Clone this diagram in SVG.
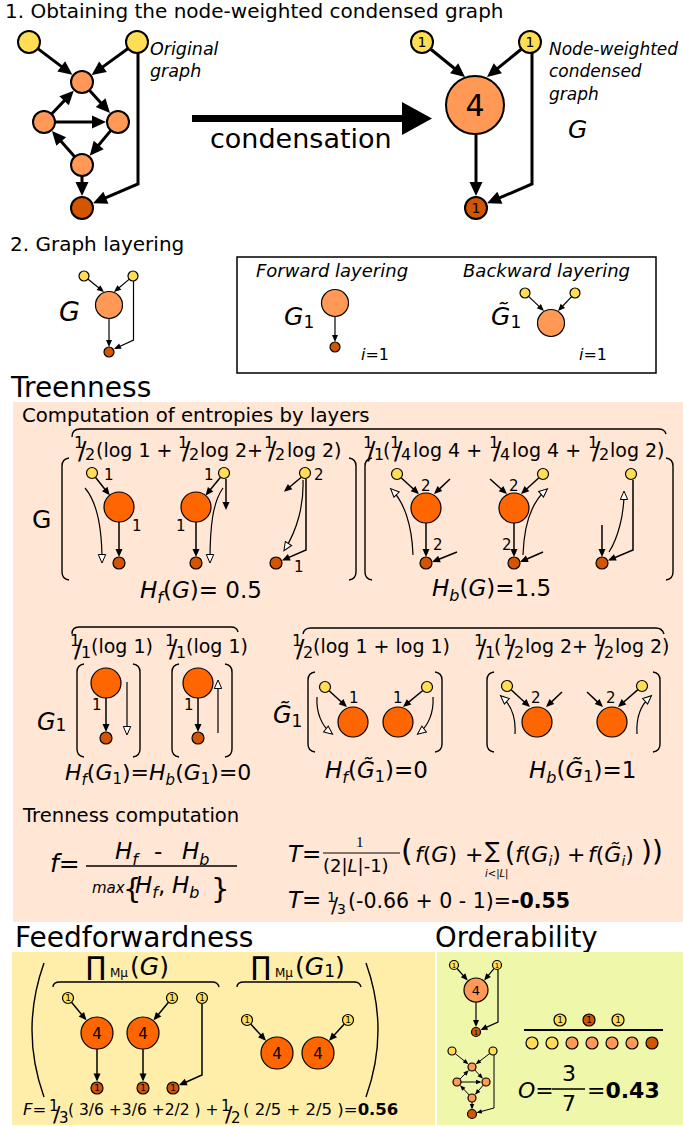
<svg xmlns="http://www.w3.org/2000/svg" width="683" height="1127" viewBox="0 0 683 1127">
<defs>
<style>
text{font-family:"DejaVu Sans","Liberation Sans",sans-serif;fill:#000}
.it{font-style:italic}
.b{font-weight:bold}
.m{text-anchor:middle}
.y{fill:#FFDD55;stroke:#000;stroke-width:1.2}
.o{fill:#FF9955;stroke:#000;stroke-width:1.2}
.r{fill:#FF6600;stroke:#000;stroke-width:1.2}
.d{fill:#D45500;stroke:#000;stroke-width:1.2}
.k2{stroke-width:2}
.e3{fill:none;stroke:#000;stroke-width:3}
.e15{fill:none;stroke:#000;stroke-width:1.5}
.e12{fill:none;stroke:#000;stroke-width:1.2}
.e1{fill:none;stroke:#000;stroke-width:1}
.br{fill:none;stroke:#000;stroke-width:1.4}
.fn{font-size:16px}
.fs{font-size:25px}
.lab{font-size:15px}
.nl{font-size:9px}
</style>
<marker id="ab" markerUnits="userSpaceOnUse" markerWidth="14" markerHeight="13" refX="10" refY="6.5" orient="auto" overflow="visible"><path d="M0,0 L14,6.5 L0,13 z"/></marker>
<marker id="as" markerUnits="userSpaceOnUse" markerWidth="8" markerHeight="7" refX="6" refY="3.5" orient="auto" overflow="visible"><path d="M0,0 L8,3.5 L0,7 z"/></marker>
<marker id="at" markerUnits="userSpaceOnUse" markerWidth="7" markerHeight="6" refX="5" refY="3" orient="auto" overflow="visible"><path d="M0,0 L7,3 L0,6 z"/></marker>
<marker id="ax" markerUnits="userSpaceOnUse" markerWidth="6" markerHeight="5" refX="4" refY="2.2" orient="auto" overflow="visible"><path d="M0,0 L5.5,2.2 L0,4.4 z"/></marker>
<marker id="ah" markerUnits="userSpaceOnUse" markerWidth="10" markerHeight="9" refX="7" refY="4.5" orient="auto" overflow="visible"><path d="M0.5,0.8 L9,4.5 L0.5,8.2 z" fill="#fff" stroke="#000" stroke-width="1"/></marker>
</defs>
<rect width="683" height="1127" fill="#fff"/>

<!-- ============ Section 1 ============ -->
<text x="5" y="18" font-size="20">1. Obtaining the node-weighted condensed graph</text>

<g id="orig-edges" class="e3">
<path d="M37.8,48.6 L69.2,72.4" marker-end="url(#ab)"/>
<path d="M128.1,48.5 L94.9,72.6" marker-end="url(#ab)"/>
<path d="M51.6,114 L71,93.6" marker-end="url(#ab)"/>
<path d="M89.4,90.2 L107.3,110.1" marker-end="url(#ab)"/>
<path d="M55,122 L102,122" marker-end="url(#ab)"/>
<path d="M110.9,130.4 L92.3,152.7" marker-end="url(#ab)"/>
<path d="M74.7,156.8 L54.6,134" marker-end="url(#ab)"/>
<path d="M82,176 L82,192" marker-end="url(#ab)"/>
<path d="M138,53 L138,184 L96.7,201.7" marker-end="url(#ab)"/>
</g>
<g id="orig-y1"><circle class="y k2" cx="29" cy="42" r="11"/></g>
<g id="orig-y2"><circle class="y k2" cx="137" cy="42" r="11"/></g>
<g id="orig-a"><circle class="o k2" cx="82" cy="82" r="11"/></g>
<g id="orig-b"><circle class="o k2" cx="44" cy="122" r="11"/></g>
<g id="orig-c"><circle class="o k2" cx="118" cy="122" r="11"/></g>
<g id="orig-d"><circle class="o k2" cx="82" cy="165" r="11"/></g>
<g id="orig-e"><circle class="d k2" cx="82" cy="208" r="11"/></g>
<text class="it" x="150" y="55" font-size="17.5">Original</text>
<text class="it" x="150" y="77" font-size="17.5">graph</text>

<g id="condensation-arrow">
<path d="M192,118.5 H404" stroke="#000" stroke-width="7"/>
<polygon points="402,102 432,118.5 402,135" fill="#000"/>
<text x="210" y="148" font-size="27">condensation</text>
</g>

<g id="cond-edges" class="e3">
<path d="M430.5,49 L461.9,74.5" marker-end="url(#ab)"/>
<path d="M521.5,49 L490.1,74.5" marker-end="url(#ab)"/>
<path d="M476,134 L476,192" marker-end="url(#ab)"/>
<path d="M532,53 L532,184 L490.7,201.7" marker-end="url(#ab)"/>
</g>
<g id="cond-y1"><circle class="y k2" cx="422" cy="42" r="11"/><text class="m" x="422" y="47" font-size="14">1</text></g>
<g id="cond-y2"><circle class="y k2" cx="530" cy="42" r="11"/><text class="m" x="530" y="47" font-size="14">1</text></g>
<g id="cond-big"><circle class="o k2" cx="475" cy="105" r="29"/><text class="m" x="475" y="116" font-size="30">4</text></g>
<g id="cond-dark"><circle class="d k2" cx="476" cy="208" r="11"/><text class="m" x="476" y="213" font-size="14">1</text></g>
<text class="it" x="549" y="55" font-size="17">Node-weighted</text>
<text class="it" x="549" y="77" font-size="17">condensed</text>
<text class="it" x="549" y="100" font-size="17">graph</text>
<text class="it" x="568" y="138" font-size="25">G</text>

<!-- ============ Section 2 ============ -->
<text x="10" y="251" font-size="20">2. Graph layering</text>
<g id="lay-edges" class="e12">
<path d="M87.5,278.8 L102.4,290.7" marker-end="url(#at)"/>
<path d="M129.6,278.9 L115.5,290.7" marker-end="url(#at)"/>
<path d="M109,318.5 L109,345" marker-end="url(#at)"/>
<path d="M133.5,281 L133.5,340 L115.8,348.2" marker-end="url(#at)"/>
<path d="M335,316.5 L335,340" marker-end="url(#at)"/>
<path d="M528.3,296.1 L542.5,309.6" marker-end="url(#at)"/>
<path d="M571.9,296.3 L559.4,309.5" marker-end="url(#at)"/>
</g>
<g id="lay-g-y1"><circle class="y" cx="84" cy="276" r="5"/></g>
<g id="lay-g-y2"><circle class="y" cx="133" cy="276" r="5"/></g>
<g id="lay-g-o"><circle class="o" cx="109" cy="305" r="13.5"/></g>
<g id="lay-g-d"><circle class="d" cx="109" cy="352" r="5"/></g>
<text class="it" x="59" y="321" font-size="27">G</text>
<rect x="237" y="257" width="419" height="116" fill="none" stroke="#000" stroke-width="1.5"/>
<text class="it" x="256" y="277" font-size="18">Forward layering</text>
<text class="it" x="463" y="277" font-size="18">Backward layering</text>
<text x="284" y="325" font-size="25"><tspan class="it">G</tspan><tspan font-size="17" dy="3">1</tspan></text>
<g id="lay-f-o"><circle class="o" cx="335" cy="303" r="13.5"/></g>
<g id="lay-f-d"><circle class="d" cx="335" cy="347" r="5"/></g>
<text x="361" y="360" font-size="16"><tspan class="it">i</tspan>=1</text>
<text x="491" y="325" font-size="25"><tspan class="it">G̃</tspan><tspan font-size="17" dy="3">1</tspan></text>
<g id="lay-b-y1"><circle class="y" cx="525" cy="293" r="5"/></g>
<g id="lay-b-y2"><circle class="y" cx="575" cy="293" r="5"/></g>
<g id="lay-b-o"><circle class="o" cx="551" cy="323" r="13.5"/></g>
<text x="579" y="360" font-size="16"><tspan class="it">i</tspan>=1</text>

<!-- ============ Treenness ============ -->
<text x="11" y="397" font-size="28">Treenness</text>
<rect x="13" y="402" width="670" height="520" fill="#FFE6D5"/>
<text x="22" y="422" font-size="19.7">Computation of entropies by layers</text>

<g id="tr-braces" class="br">
<path d="M72,437 Q72,429 80,429 L658,429 Q665,429 666,434"/>
<path d="M69,458 Q62,459 62,466 L62,572 Q62,579 69,580"/>
<path d="M349,458 Q356,459 356,466 L356,572 Q356,579 349,580"/>
<path d="M372,458 Q365,459 365,466 L365,572 Q365,579 372,580"/>
<path d="M666,458 Q673,459 673,466 L673,572 Q673,579 666,580"/>
<path d="M72,634 Q72,627 79,627 L231,627 Q237,627 238,632"/>
<path d="M84,664 Q77,665 77,672 L77,749 Q77,756 84,757"/>
<path d="M133,664 Q140,665 140,672 L140,749 Q140,756 133,757"/>
<path d="M179,664 Q172,665 172,672 L172,749 Q172,756 179,757"/>
<path d="M225,664 Q232,665 232,672 L232,749 Q232,756 225,757"/>
<path d="M303,634 Q304,628 311,628 L656,628 Q662,628 664,634"/>
<path d="M315,672 Q308,673 308,680 L308,744 Q308,751 315,752"/>
<path d="M435,672 Q442,673 442,680 L442,744 Q442,751 435,752"/>
<path d="M494,672 Q487,673 487,680 L487,744 Q487,751 494,752"/>
<path d="M653,672 Q660,673 660,680 L660,744 Q660,751 653,752"/>
</g>

<text font-size="19"><tspan class="fn" x="74" y="448">1</tspan><tspan class="fs" x="78" y="459">/</tspan><tspan class="fn" x="85" y="460">2</tspan><tspan x="96" y="457">(log 1 +</tspan><tspan class="fn" x="178" y="448">1</tspan><tspan class="fs" x="182" y="459">/</tspan><tspan class="fn" x="189" y="460">2</tspan><tspan x="200" y="457">log 2+</tspan><tspan class="fn" x="264" y="448">1</tspan><tspan class="fs" x="268" y="459">/</tspan><tspan class="fn" x="275" y="460">2</tspan><tspan x="287" y="457">log 2)</tspan></text>
<text font-size="19"><tspan class="fn" x="363" y="448">1</tspan><tspan class="fs" x="367" y="459">/</tspan><tspan class="fn" x="374" y="460">1</tspan><tspan x="383" y="457">(</tspan><tspan class="fn" x="390" y="448">1</tspan><tspan class="fs" x="394" y="459">/</tspan><tspan class="fn" x="401" y="460">4</tspan><tspan x="413" y="457">log 4 +</tspan><tspan class="fn" x="489" y="448">1</tspan><tspan class="fs" x="493" y="459">/</tspan><tspan class="fn" x="500" y="460">4</tspan><tspan x="512" y="457">log 4 +</tspan><tspan class="fn" x="588" y="448">1</tspan><tspan class="fs" x="592" y="459">/</tspan><tspan class="fn" x="599" y="460">2</tspan><tspan x="610" y="457">log 2)</tspan></text>
<text x="32" y="528" font-size="25">G</text>

<g id="tr-row1-edges">
<path class="e15" d="M95.4,477.3 L108.5,493.7" marker-end="url(#as)"/>
<path class="e15" d="M119,522 L119,555" marker-end="url(#as)"/>
<path class="e12" d="M85,488 C97,502 102,525 102,561" marker-end="url(#ah)"/>
<path class="e15" d="M220.5,477.3 L206.8,493.9" marker-end="url(#as)"/>
<path class="e15" d="M226,479 L226,508" marker-end="url(#as)"/>
<path class="e15" d="M196,522 L196,555" marker-end="url(#as)"/>
<path class="e12" d="M223,488 C213,502 210,525 210,561" marker-end="url(#ah)"/>
<path class="e15" d="M301,477.5 L285.5,490.5" marker-end="url(#as)"/>
<path class="e12" d="M303,480 C304,505 297,530 285,549" marker-end="url(#ah)"/>
<path class="e15" d="M306,479 L306,550 L283.8,559.6" marker-end="url(#as)"/>
<path class="e15" d="M401.1,477.7 L417.5,492.7" marker-end="url(#as)"/>
<path class="e15" d="M450,479 L435.5,492.6" marker-end="url(#as)"/>
<path class="e15" d="M426,523 L426,555" marker-end="url(#as)"/>
<path class="e15" d="M457,552 L433.9,561.3" marker-end="url(#as)"/>
<path class="e12" d="M413,555 C412,525 404,502 392,490" marker-end="url(#ah)"/>
<path class="e15" d="M490,479 L505.5,492.7" marker-end="url(#as)"/>
<path class="e15" d="M538.9,477.7 L522.5,492.7" marker-end="url(#as)"/>
<path class="e15" d="M514,523 L514,555" marker-end="url(#as)"/>
<path class="e15" d="M543,552 L521.8,561.2" marker-end="url(#as)"/>
<path class="e12" d="M523,555 C524,525 532,502 546,490" marker-end="url(#ah)"/>
<path class="e15" d="M602,525 L602,555" marker-end="url(#as)"/>
<path class="e12" d="M609,552 C618,538 624,515 624,493" marker-end="url(#ah)"/>
<path class="e15" d="M633,480 L633,550 L609.8,559.7" marker-end="url(#as)"/>
</g>
<g id="tr-f1-y"><circle class="y" cx="92" cy="473" r="5.5"/></g>
<g id="tr-f1-o"><circle class="r" cx="119" cy="507" r="15"/></g>
<g id="tr-f1-d"><circle class="d" cx="119" cy="563" r="6"/></g>
<g id="tr-f2-y"><circle class="y" cx="224" cy="473" r="5.5"/></g>
<g id="tr-f2-o"><circle class="r" cx="196" cy="507" r="15"/></g>
<g id="tr-f2-d"><circle class="d" cx="196" cy="563" r="6"/></g>
<g id="tr-f3-y"><circle class="y" cx="305" cy="473" r="5.5"/></g>
<g id="tr-f3-d"><circle class="d" cx="276" cy="563" r="6"/></g>
<g id="tr-b1-y"><circle class="y" cx="397" cy="474" r="5.5"/></g>
<g id="tr-b1-o"><circle class="r" cx="426" cy="508" r="15"/></g>
<g id="tr-b1-d"><circle class="d" cx="426" cy="563" r="6"/></g>
<g id="tr-b2-y"><circle class="y" cx="543" cy="474" r="5.5"/></g>
<g id="tr-b2-o"><circle class="r" cx="514" cy="508" r="15"/></g>
<g id="tr-b2-d"><circle class="d" cx="514" cy="563" r="6"/></g>
<g id="tr-b3-y"><circle class="y" cx="631" cy="474" r="5.5"/></g>
<g id="tr-b3-d"><circle class="d" cx="602" cy="563" r="6"/></g>
<g id="tr-row1-labels" class="lab">
<text x="104" y="480">1</text><text x="132" y="531">1</text>
<text x="204" y="480">1</text><text x="176" y="531">1</text>
<text x="314" y="480">2</text><text x="294" y="572">1</text>
<text x="421" y="491">2</text><text x="433" y="550">2</text>
<text x="509" y="491">2</text><text x="502" y="550">2</text>
</g>
<text x="140" y="598" font-size="23"><tspan class="it">H</tspan><tspan class="it" font-size="16" dy="5">f</tspan><tspan dy="-5">(</tspan><tspan class="it">G</tspan>)= 0.5</text>
<text x="432" y="596" font-size="23"><tspan class="it">H</tspan><tspan class="it" font-size="16" dy="5">b</tspan><tspan dy="-5">(</tspan><tspan class="it">G</tspan>)=1.5</text>

<!-- row 2 -->
<text font-size="19"><tspan class="fn" x="70" y="646">1</tspan><tspan class="fs" x="74" y="657">/</tspan><tspan class="fn" x="81" y="658">1</tspan><tspan x="91" y="653">(log 1)</tspan><tspan class="fn" x="165" y="646">1</tspan><tspan class="fs" x="169" y="657">/</tspan><tspan class="fn" x="176" y="658">1</tspan><tspan x="186" y="653">(log 1)</tspan></text>
<text font-size="19"><tspan class="fn" x="292" y="646">1</tspan><tspan class="fs" x="296" y="657">/</tspan><tspan class="fn" x="303" y="658">2</tspan><tspan x="313" y="653">(log 1 + log 1)</tspan><tspan class="fn" x="474" y="646">1</tspan><tspan class="fs" x="478" y="657">/</tspan><tspan class="fn" x="485" y="658">1</tspan><tspan x="494" y="653">(</tspan><tspan class="fn" x="503" y="646">1</tspan><tspan class="fs" x="507" y="657">/</tspan><tspan class="fn" x="514" y="658">2</tspan><tspan x="525" y="653">log 2+</tspan><tspan class="fn" x="593" y="646">1</tspan><tspan class="fs" x="597" y="657">/</tspan><tspan class="fn" x="604" y="658">2</tspan><tspan x="615" y="653">log 2)</tspan></text>
<text x="37" y="730" font-size="24"><tspan class="it">G</tspan><tspan font-size="17" dy="1">1</tspan></text>
<text x="273" y="723" font-size="24"><tspan class="it">G̃</tspan><tspan font-size="17" dy="4">1</tspan></text>

<g id="tr-row2-edges">
<path class="e15" d="M106,698 L106,730" marker-end="url(#as)"/>
<path class="e12" d="M127,682 L127,733" marker-end="url(#ah)"/>
<path class="e15" d="M198,698 L198,730" marker-end="url(#as)"/>
<path class="e12" d="M218,733 L218,682" marker-end="url(#ah)"/>
<path class="e15" d="M329.1,690.7 L345.5,705.7" marker-end="url(#as)"/>
<path class="e15" d="M422.8,690.5 L404.5,705.7" marker-end="url(#as)"/>
<path class="e12" d="M317,697 C316,713 322,726 331,733" marker-end="url(#ah)"/>
<path class="e12" d="M433,697 C434,713 428,726 419,733" marker-end="url(#ah)"/>
<path class="e15" d="M511.1,689.7 L528.5,705.7" marker-end="url(#as)"/>
<path class="e15" d="M562,692 L547.5,705.6" marker-end="url(#as)"/>
<path class="e12" d="M515,734 C516,718 511,705 502,697" marker-end="url(#ah)"/>
<path class="e15" d="M587,692 L601.5,705.6" marker-end="url(#as)"/>
<path class="e15" d="M637.9,689.6 L619.5,705.7" marker-end="url(#as)"/>
<path class="e12" d="M637,734 C636,718 641,705 650,697" marker-end="url(#ah)"/>
</g>
<g id="tr-g1a-o"><circle class="r" cx="106" cy="683" r="15"/></g>
<g id="tr-g1a-d"><circle class="d" cx="106" cy="738" r="6"/></g>
<g id="tr-g1b-o"><circle class="r" cx="198" cy="683" r="15"/></g>
<g id="tr-g1b-d"><circle class="d" cx="198" cy="738" r="6"/></g>
<g id="tr-gt1-y"><circle class="y" cx="325" cy="687" r="5.5"/></g>
<g id="tr-gt1-o"><circle class="r" cx="353" cy="722" r="15"/></g>
<g id="tr-gt2-y"><circle class="y" cx="427" cy="687" r="5.5"/></g>
<g id="tr-gt2-o"><circle class="r" cx="398" cy="722" r="15"/></g>
<g id="tr-gt3-y"><circle class="y" cx="507" cy="686" r="5.5"/></g>
<g id="tr-gt3-o"><circle class="r" cx="537" cy="722" r="15"/></g>
<g id="tr-gt4-y"><circle class="y" cx="642" cy="686" r="5.5"/></g>
<g id="tr-gt4-o"><circle class="r" cx="612" cy="722" r="15"/></g>
<g id="tr-row2-labels" class="lab">
<text x="92" y="710">1</text><text x="184" y="710">1</text>
<text x="349" y="703">1</text><text x="393" y="703">1</text>
<text x="531" y="703">2</text><text x="606" y="703">2</text>
</g>
<text x="65" y="780" font-size="22"><tspan class="it">H</tspan><tspan class="it" font-size="15" dy="5">f</tspan><tspan dy="-5">(</tspan><tspan class="it">G</tspan><tspan font-size="15" dy="4">1</tspan><tspan dy="-4">)=</tspan><tspan class="it">H</tspan><tspan class="it" font-size="15" dy="5">b</tspan><tspan dy="-5">(</tspan><tspan class="it">G</tspan><tspan font-size="15" dy="4">1</tspan><tspan dy="-4">)=0</tspan></text>
<text x="325" y="778" font-size="23"><tspan class="it">H</tspan><tspan class="it" font-size="16" dy="5">f</tspan><tspan dy="-5">(</tspan><tspan class="it">G̃</tspan><tspan font-size="16" dy="4">1</tspan><tspan dy="-4">)=0</tspan></text>
<text x="529" y="778" font-size="23"><tspan class="it">H</tspan><tspan class="it" font-size="16" dy="5">b</tspan><tspan dy="-5">(</tspan><tspan class="it">G̃</tspan><tspan font-size="16" dy="4">1</tspan><tspan dy="-4">)=1</tspan></text>

<!-- Trenness computation -->
<text x="23" y="822" font-size="19.6">Trenness computation</text>
<text x="50" y="872" font-size="25"><tspan class="it">f</tspan>=</text>
<line x1="86" y1="866" x2="237" y2="866" stroke="#000" stroke-width="1.5"/>
<text y="859" font-size="23"><tspan class="it" x="115">H</tspan><tspan class="it" font-size="16" dy="6">f</tspan><tspan x="154" dy="-6">-</tspan><tspan class="it" x="182">H</tspan><tspan class="it" font-size="16" dy="6">b</tspan></text>
<text y="893" font-size="23"><tspan class="it" x="92" font-size="15">max</tspan><tspan x="123" y="899" font-size="29">{</tspan><tspan class="it" x="135" y="893">H</tspan><tspan class="it" font-size="16" dy="5">f</tspan><tspan dy="-5">,</tspan><tspan class="it" x="172">H</tspan><tspan class="it" font-size="16" dy="5">b</tspan><tspan x="211" y="899" font-size="29">}</tspan></text>

<text x="288" y="862" font-size="23"><tspan class="it">T</tspan>=</text>
<text x="356" y="847" font-size="15" style="font-family:'Liberation Serif',serif">1</text>
<line x1="323" y1="853" x2="400" y2="853" stroke="#000" stroke-width="1"/>
<text x="323" y="872" font-size="18">(2|<tspan class="it">L</tspan>|-1)</text>
<text y="862" font-size="22"><tspan x="401" y="861" font-size="30">(</tspan><tspan class="it" x="415" y="862">f</tspan>(<tspan class="it">G</tspan>)<tspan x="465">+</tspan><tspan x="485" y="858">∑</tspan><tspan x="505" y="861" font-size="26">(</tspan><tspan class="it" x="515" y="862">f</tspan>(<tspan class="it">G</tspan><tspan class="it" font-size="14" dy="4">i</tspan><tspan dy="-4">)</tspan><tspan x="567">+</tspan><tspan class="it" x="588">f</tspan>(<tspan class="it">G̃</tspan><tspan class="it" font-size="14" dy="4">i</tspan><tspan dy="-4">)</tspan><tspan x="641" y="861" font-size="28">))</tspan></text>
<text class="it" x="485" y="877" font-size="10">i&lt;|L|</text>
<text y="908" font-size="20.5"><tspan class="it" x="288" font-size="23">T</tspan><tspan font-size="23">=</tspan><tspan x="327" y="902" font-size="14">1</tspan><tspan x="331" y="913" font-size="21">/</tspan><tspan x="337" y="914" font-size="14">3</tspan><tspan x="348" y="908">(-0.66 + 0 - 1)=</tspan><tspan class="b">-0.55</tspan></text>

<!-- ============ Feedforwardness ============ -->
<text x="15" y="947" font-size="28">Feedforwardness</text>
<rect x="12" y="952" width="423" height="173" fill="#FFEEAA"/>
<g id="ff-braces" class="br">
<path d="M44,963 Q20,1030 44,1097"/>
<path d="M366,963 Q390,1030 366,1097"/>
<path d="M53,987 Q53,982 60,982 L212,982 Q218,982 219,987"/>
<path d="M237,987 Q237,982 244,982 L354,982 Q360,982 361,987"/>
</g>
<text y="975" font-size="25"><tspan x="86" font-size="26">∏</tspan><tspan x="110" y="977" font-size="12">Mμ</tspan><tspan x="130" y="975">(</tspan><tspan class="it">G</tspan>)</text>
<text y="975" font-size="25"><tspan x="251" font-size="26">∏</tspan><tspan x="275" y="977" font-size="12">Mμ</tspan><tspan x="295" y="975">(</tspan><tspan class="it">G</tspan><tspan font-size="17" dy="2">1</tspan><tspan dy="-2">)</tspan></text>
<g id="ff-edges" class="e15">
<path d="M71.5,1002.2 L85.2,1018.8" marker-end="url(#as)"/>
<path d="M168.5,1002.2 L154.8,1018.8" marker-end="url(#as)"/>
<path d="M97,1049 L97,1079.5" marker-end="url(#as)"/>
<path d="M143,1049 L143,1079.5" marker-end="url(#as)"/>
<path d="M202,1003.5 L202,1075 L180.7,1084.5" marker-end="url(#as)"/>
<path d="M250.7,1024.1 L264.6,1039.3" marker-end="url(#as)"/>
<path d="M344.3,1024.1 L330.4,1039.3" marker-end="url(#as)"/>
</g>
<g id="ff-ya"><circle class="y" cx="68" cy="998" r="5.5"/><text class="m nl" x="68" y="1001">1</text></g>
<g id="ff-oa"><circle class="r" cx="97" cy="1033" r="16"/><text class="m" x="97" y="1038.5" font-size="15">4</text></g>
<g id="ff-da"><circle class="d" cx="97" cy="1088" r="6"/><text class="m nl" x="97" y="1091">1</text></g>
<g id="ff-yb"><circle class="y" cx="172" cy="998" r="5.5"/><text class="m nl" x="172" y="1001">1</text></g>
<g id="ff-ob"><circle class="r" cx="143" cy="1033" r="16"/><text class="m" x="143" y="1038.5" font-size="15">4</text></g>
<g id="ff-db"><circle class="d" cx="143" cy="1088" r="6"/><text class="m nl" x="143" y="1091">1</text></g>
<g id="ff-yc"><circle class="y" cx="202" cy="998" r="5.5"/><text class="m nl" x="202" y="1001">1</text></g>
<g id="ff-dc"><circle class="d" cx="173" cy="1088" r="6"/><text class="m nl" x="173" y="1091">1</text></g>
<g id="ff-yd"><circle class="y" cx="247" cy="1020" r="5.5"/><text class="m nl" x="247" y="1023">1</text></g>
<g id="ff-od"><circle class="r" cx="277" cy="1053" r="16"/><text class="m" x="277" y="1058.5" font-size="15">4</text></g>
<g id="ff-oe"><circle class="r" cx="318" cy="1053" r="16"/><text class="m" x="318" y="1058.5" font-size="15">4</text></g>
<g id="ff-ye"><circle class="y" cx="348" cy="1020" r="5.5"/><text class="m nl" x="348" y="1023">1</text></g>
<text y="1115" font-size="16.5"><tspan class="it" x="23">F</tspan>=<tspan x="49" y="1111" font-size="15">1</tspan><tspan x="53" y="1122" font-size="22">/</tspan><tspan x="59" y="1123" font-size="15">3</tspan><tspan x="68" y="1115" font-size="15.5">( 3/6 +3/6 +2/2 ) +</tspan><tspan x="221" y="1111" font-size="15">1</tspan><tspan x="225" y="1122" font-size="22">/</tspan><tspan x="231" y="1123" font-size="15">2</tspan><tspan x="243" y="1115">( 2/5 + 2/5 )=</tspan><tspan class="b">0.56</tspan></text>

<!-- ============ Orderability ============ -->
<text x="435" y="947" font-size="27.5">Orderability</text>
<rect x="437" y="952" width="246" height="173" fill="#EFF7AA"/>
<g id="ord-edges">
<path class="e12" d="M456.6,968 L466.4,979.1" marker-end="url(#at)"/>
<path class="e12" d="M494.4,968.1 L485.4,978.9" marker-end="url(#at)"/>
<path class="e12" d="M476,1002 L476,1025" marker-end="url(#at)"/>
<path class="e12" d="M498,969 L498,1022 L482.3,1029.1" marker-end="url(#at)"/>
<path class="e1" d="M455.1,1053.5 L467.3,1063.3" marker-end="url(#ax)"/>
<path class="e1" d="M489.8,1053.4 L476.8,1063.4" marker-end="url(#ax)"/>
<path class="e1" d="M459.8,1079.2 L467.7,1071.3" marker-end="url(#ax)"/>
<path class="e1" d="M474.7,1069.9 L481.9,1077.6" marker-end="url(#ax)"/>
<path class="e1" d="M461,1082 L480,1082" marker-end="url(#ax)"/>
<path class="e1" d="M483.4,1085 L476,1093.5" marker-end="url(#ax)"/>
<path class="e1" d="M469.3,1095.1 L461.1,1086.4" marker-end="url(#ax)"/>
<path class="e1" d="M472,1102 L472,1108" marker-end="url(#ax)"/>
<path class="e1" d="M494,1055 L494,1108 L477.8,1112.4" marker-end="url(#ax)"/>
</g>
<g id="ord-c-y1"><circle class="y" cx="454" cy="965" r="4.5"/><text class="m" x="454" y="967.5" font-size="7">1</text></g>
<g id="ord-c-y2"><circle class="y" cx="497" cy="965" r="4.5"/><text class="m" x="497" y="967.5" font-size="7">1</text></g>
<g id="ord-c-o"><circle class="o" cx="476" cy="990" r="12"/><text class="m" x="476" y="994.5" font-size="13">4</text></g>
<g id="ord-c-d"><circle class="d" cx="476" cy="1032" r="4.5"/><text class="m" x="476" y="1034.5" font-size="7">1</text></g>
<g id="ord-g-y1"><circle class="y" cx="452" cy="1051" r="4"/></g>
<g id="ord-g-y2"><circle class="y" cx="493" cy="1051" r="4"/></g>
<g id="ord-g-a"><circle class="o" cx="472" cy="1067" r="4"/></g>
<g id="ord-g-b"><circle class="o" cx="457" cy="1082" r="4"/></g>
<g id="ord-g-c"><circle class="o" cx="486" cy="1082" r="4"/></g>
<g id="ord-g-d"><circle class="o" cx="472" cy="1098" r="4"/></g>
<g id="ord-g-e"><circle class="d" cx="472" cy="1114" r="4.5"/></g>
<g id="ord-top1"><circle class="y" cx="560" cy="1020" r="6"/><text class="m nl" x="560" y="1023">1</text></g>
<g id="ord-top2"><circle class="d" cx="589" cy="1020" r="6"/><text class="m nl" x="589" y="1023">1</text></g>
<g id="ord-top3"><circle class="y" cx="618" cy="1020" r="6"/><text class="m nl" x="618" y="1023">1</text></g>
<line x1="524" y1="1030" x2="663" y2="1030" stroke="#000" stroke-width="2"/>
<g id="ord-row">
<circle class="y" cx="532" cy="1043" r="6"/>
<circle class="y" cx="552" cy="1043" r="6"/>
<circle class="o" cx="572" cy="1043" r="6"/>
<circle class="o" cx="592" cy="1043" r="6"/>
<circle class="o" cx="612" cy="1043" r="6"/>
<circle class="o" cx="632" cy="1043" r="6"/>
<circle class="d" cx="652" cy="1043" r="6"/>
</g>
<text y="1098" font-size="22"><tspan class="it" x="518">O</tspan>=<tspan x="562" y="1081">3</tspan><tspan x="562" y="1111">7</tspan><tspan x="587" y="1098">=</tspan><tspan class="b">0.43</tspan></text>
<line x1="552" y1="1089" x2="585" y2="1089" stroke="#000" stroke-width="1.5"/>
</svg>
